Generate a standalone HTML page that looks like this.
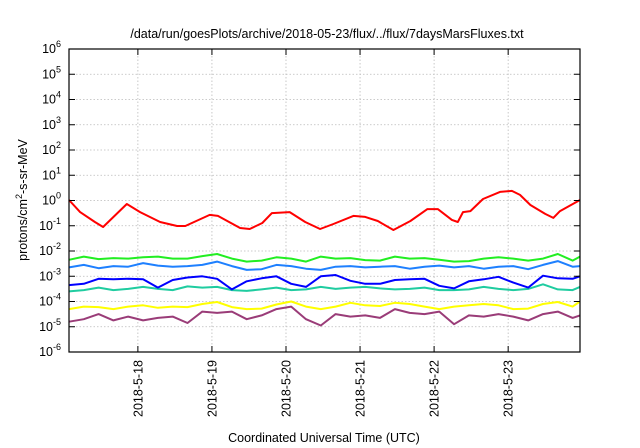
<!DOCTYPE html>
<html><head><meta charset="utf-8"><style>
html,body{margin:0;padding:0;background:#fff}
svg{display:block;font-family:"Liberation Sans",sans-serif}
</style></head><body>
<svg id="chart" width="640" height="448" viewBox="0 0 640 448" xmlns="http://www.w3.org/2000/svg">
<text x="327" y="38" font-size="12.5" text-anchor="middle">/data/run/goesPlots/archive/2018-05-23/flux/../flux/7daysMarsFluxes.txt</text>
<text transform="translate(27,200) rotate(-90)" font-size="12.5" text-anchor="middle">protons/cm<tspan dy="-5" font-size="9">2</tspan><tspan dy="5">-s-sr-MeV</tspan></text>
<text x="324" y="442" font-size="12.5" text-anchor="middle">Coordinated Universal Time (UTC)</text>
<g id="grid"></g><g id="series"></g><g id="axes"></g>
</svg>
<script>
const yExponents=[-6,-5,-4,-3,-2,-1,0,1,2,3,4,5,6];
const xTickDays=[1,2,3,4,5,6];
const xTickLabels=["2018-5-18","2018-5-19","2018-5-20","2018-5-21","2018-5-22","2018-5-23"];
const gridDays=[0.07,0.27,0.47,0.67,0.87,1.07,1.27,1.47,1.67,1.87,2.07,2.27,2.47,2.67,2.87,3.07,3.27,3.47,3.67,3.87,4.07,4.27,4.47,4.67,4.87,5.07,5.27,5.47,5.67,5.87,6.07,6.27,6.47,6.67,6.87,6.97];
const redDays=[0.07,0.22,0.42,0.53,0.85,1.03,1.30,1.53,1.64,1.97,2.08,2.38,2.51,2.68,2.81,3.05,3.26,3.46,3.64,3.91,4.07,4.24,4.45,4.68,4.91,5.05,5.24,5.32,5.39,5.49,5.66,5.89,6.05,6.16,6.30,6.50,6.61,6.70,6.97];
const redLog=[0.02,-0.46,-0.85,-1.05,-0.14,-0.46,-0.85,-1.01,-1.01,-0.57,-0.61,-1.09,-1.13,-0.89,-0.5,-0.46,-0.85,-1.13,-0.93,-0.61,-0.65,-0.81,-1.17,-0.81,-0.34,-0.34,-0.77,-0.85,-0.46,-0.42,0.06,0.34,0.38,0.22,-0.18,-0.53,-0.69,-0.42,0.02];
const greenLog=[-2.35,-2.22,-2.32,-2.28,-2.3,-2.25,-2.22,-2.3,-2.3,-2.2,-2.12,-2.3,-2.42,-2.38,-2.25,-2.3,-2.42,-2.22,-2.3,-2.28,-2.36,-2.38,-2.22,-2.3,-2.28,-2.35,-2.42,-2.4,-2.3,-2.25,-2.3,-2.38,-2.3,-2.12,-2.38,-2.22];
const lightBlueLog=[-2.65,-2.55,-2.68,-2.6,-2.62,-2.48,-2.58,-2.62,-2.6,-2.55,-2.42,-2.6,-2.75,-2.72,-2.55,-2.6,-2.7,-2.75,-2.62,-2.6,-2.65,-2.62,-2.6,-2.7,-2.62,-2.58,-2.65,-2.6,-2.7,-2.62,-2.6,-2.72,-2.55,-2.4,-2.62,-2.6];
const blueLog=[-3.35,-3.3,-3.1,-3.12,-3.1,-3.12,-3.45,-3.15,-3.05,-3.0,-3.1,-3.52,-3.2,-3.08,-3.0,-3.3,-3.42,-3.0,-2.95,-3.18,-3.3,-3.3,-3.15,-3.12,-3.1,-3.38,-3.48,-3.2,-3.12,-3.02,-3.25,-3.45,-2.98,-3.08,-3.1,-3.0];
const tealLog=[-3.6,-3.55,-3.45,-3.55,-3.5,-3.42,-3.5,-3.55,-3.4,-3.45,-3.42,-3.55,-3.58,-3.52,-3.45,-3.55,-3.52,-3.42,-3.5,-3.45,-3.42,-3.48,-3.52,-3.5,-3.45,-3.55,-3.55,-3.52,-3.42,-3.5,-3.55,-3.5,-3.32,-3.52,-3.55,-3.42];
const yellowLog=[-4.3,-4.2,-4.22,-4.3,-4.2,-4.15,-4.25,-4.2,-4.22,-4.1,-4.02,-4.22,-4.3,-4.28,-4.12,-4.0,-4.2,-4.3,-4.2,-4.05,-4.15,-4.18,-4.05,-4.1,-4.2,-4.3,-4.2,-4.15,-4.1,-4.15,-4.3,-4.28,-4.1,-4.02,-4.2,-4.0];
const purpleLog=[-4.8,-4.7,-4.5,-4.75,-4.6,-4.75,-4.65,-4.6,-4.85,-4.4,-4.45,-4.4,-4.7,-4.55,-4.3,-4.2,-4.7,-4.95,-4.5,-4.6,-4.55,-4.65,-4.3,-4.45,-4.5,-4.4,-4.9,-4.55,-4.6,-4.5,-4.6,-4.75,-4.5,-4.4,-4.65,-4.55];

const L=69,R=580,T=49,B=352,D0=0.07,D1=6.97;
const xs=d=>L+(d-D0)/(D1-D0)*(R-L);
const ys=e=>B-(e+6)/12*(B-T);
const NS="http://www.w3.org/2000/svg";
function mk(tag,attrs,parent){const el=document.createElementNS(NS,tag);for(const k in attrs)el.setAttribute(k,attrs[k]);parent.appendChild(el);return el;}
const grid=document.getElementById('grid'),axes=document.getElementById('axes'),ser=document.getElementById('series');
yExponents.forEach(e=>{
  const y=ys(e);
  if(e>-6&&e<6){const g=mk('line',{x1:L,x2:R,y1:y,y2:y,stroke:'#bbb','stroke-width':0.8,'stroke-dasharray':'1.5,2'},grid);
  
  }
  mk('line',{x1:L,x2:L+6,y1:y,y2:y,stroke:'#000'},axes);
  mk('line',{x1:R-6,x2:R,y1:y,y2:y,stroke:'#000'},axes);
  const t=mk('text',{x:L-8,y:y+4,'font-size':12.5,'text-anchor':'end'},axes);
  
  
  t.textContent='10';
  const s=mk('tspan',{dy:-6,'font-size':9},t);s.textContent=String(e);
});
xTickDays.forEach((d,i)=>{
  const x=xs(d);
  const g=mk('line',{x1:x,x2:x,y1:T,y2:B,stroke:'#bbb','stroke-width':0.8,'stroke-dasharray':'1.5,2'},grid);
  
  
  mk('line',{x1:x,x2:x,y1:B-6,y2:B,stroke:'#000'},axes);
  mk('line',{x1:x,x2:x,y1:T,y2:T+6,stroke:'#000'},axes);
  const t=mk('text',{transform:`translate(${x+4.5},360) rotate(-90)`,'font-size':12.5,'text-anchor':'end'},axes);
  
  
  t.textContent=xTickLabels[i];
});
const f=mk('rect',{x:L,y:T,width:R-L,height:B-T,fill:'none',stroke:'#000','stroke-width':1.2},axes);


function line(days,vals,color,name){
  const p=mk('polyline',{points:days.map((d,i)=>xs(d).toFixed(1)+','+ys(vals[i]).toFixed(1)).join(' '),fill:'none',stroke:color,'stroke-width':2,'stroke-linejoin':'round'},ser);
  
  
}
line(gridDays,purpleLog,'#9a3c78','series-purple');
line(gridDays,yellowLog,'#ffff00','series-yellow');
line(gridDays,tealLog,'#1fcca0','series-teal');
line(gridDays,blueLog,'#0000ff','series-blue');
line(gridDays,lightBlueLog,'#1e80ff','series-light-blue');
line(gridDays,greenLog,'#22ee22','series-green');
line(redDays,redLog,'#ff0000','series-red');
</script>
</body></html>
